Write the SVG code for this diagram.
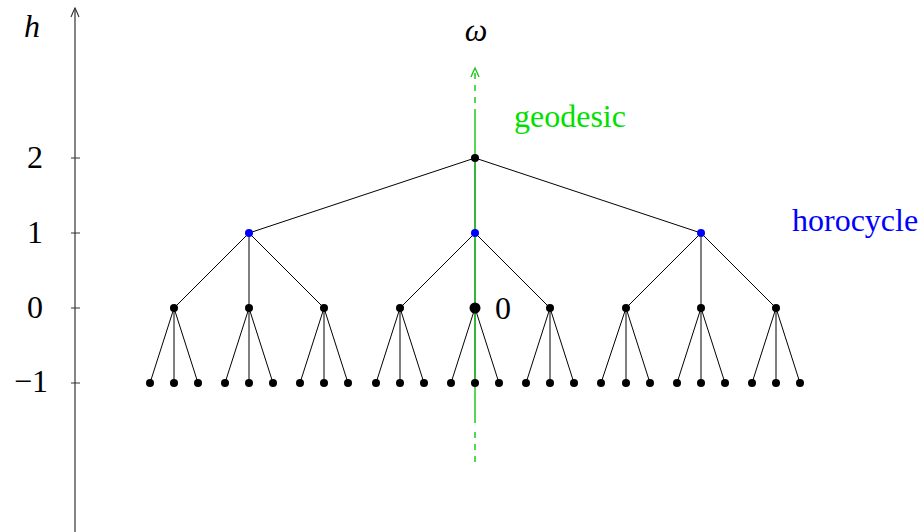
<svg xmlns="http://www.w3.org/2000/svg" width="923" height="532" viewBox="0 0 923 532">
<style>
.t{font-family:"Liberation Serif","DejaVu Serif",serif;font-size:32px;fill:#000}
.i{font-style:italic}
.e{stroke:#000;stroke-width:1;fill:none}
.n{fill:#000}
.b{fill:#0000ff}
.ax{stroke:#333;stroke-width:1.2;fill:none}
.g{stroke:#1ec81e;stroke-width:1.5;fill:none}
</style>
<defs>
<marker id="ah" markerWidth="12" markerHeight="18" refX="6" refY="1" orient="0" markerUnits="userSpaceOnUse" overflow="visible">
<path d="M2,10 Q4.5,4 6,1 Q7.5,4 10,10" fill="none" stroke="#333" stroke-width="1.1"/>
</marker>
<marker id="ahg" markerWidth="12" markerHeight="18" refX="6" refY="1" orient="0" markerUnits="userSpaceOnUse" overflow="visible">
<path d="M2,10 Q4.5,4 6,1 Q7.5,4 10,10" fill="none" stroke="#1ec81e" stroke-width="1.4"/>
</marker>
</defs>
<g id="axis">
<line class="ax" x1="75" y1="532" x2="75" y2="8" marker-end="url(#ah)"/>
<path class="ax" d="M71,158H80M71,233H80M71,308H80M71,383H80"/>
<text class="t i" x="24" y="37">h</text>
<text class="t" x="43" y="168" text-anchor="end">2</text>
<text class="t" x="43" y="243" text-anchor="end">1</text>
<text class="t" x="43" y="318" text-anchor="end">0</text>
<text class="t" x="48" y="392" text-anchor="end">−1</text>
</g>
<g id="connectors">
<path class="e" d="M475,158L249,233M475,158L475,233M475,158L701,233"/>
<path class="e" d="M249,233L174,308M249,233L249,308M249,233L324,308M475,233L400,308M475,233L475,308M475,233L550,308M701,233L626,308M701,233L701,308M701,233L776,308"/>
<path class="e" d="M174,308L150,383M174,308L174,383M174,308L198,383M249,308L225,383M249,308L249,383M249,308L273,383M324,308L300,383M324,308L324,383M324,308L348,383M400,308L376,383M400,308L400,383M400,308L424,383M475,308L451,383M475,308L475,383M475,308L499,383M550,308L526,383M550,308L550,383M550,308L574,383M626,308L601,383M626,308L626,383M626,308L650,383M701,308L677,383M701,308L701,383M701,308L725,383M776,308L752,383M776,308L776,383M776,308L800,383"/>
</g>
<g id="geodesic">
<line class="g" x1="475" y1="423" x2="475" y2="115"/>
<line class="g" x1="475" y1="115" x2="475" y2="68" stroke-dasharray="6,6" marker-end="url(#ahg)"/>
<line class="g" x1="475" y1="423" x2="475" y2="470" stroke-dasharray="0,9,6,6,6,6,6,6"/>
<text class="t" x="514" y="127" style="fill:#00e000">geodesic</text>
<text class="t i" x="476" y="41" text-anchor="middle">ω</text>
</g>
<g id="n-top"><circle class="n" cx="475" cy="158" r="4"/></g>
<g id="n-l1"><circle class="b" cx="249" cy="233" r="4"/><circle class="b" cx="475" cy="233" r="4"/><circle class="b" cx="701" cy="233" r="4"/></g>
<g id="n-l0"><circle class="n" cx="174" cy="308" r="4"/><circle class="n" cx="249" cy="308" r="4"/><circle class="n" cx="324" cy="308" r="4"/><circle class="n" cx="400" cy="308" r="4"/><circle class="n" cx="550" cy="308" r="4"/><circle class="n" cx="626" cy="308" r="4"/><circle class="n" cx="701" cy="308" r="4"/><circle class="n" cx="776" cy="308" r="4"/></g>
<g id="n-origin"><circle class="n" cx="475" cy="308" r="5.5"/><text class="t" x="495" y="319">0</text></g>
<g id="n-leaves">
<circle class="n" cx="150" cy="383" r="4"/><circle class="n" cx="174" cy="383" r="4"/><circle class="n" cx="198" cy="383" r="4"/>
<circle class="n" cx="225" cy="383" r="4"/><circle class="n" cx="249" cy="383" r="4"/><circle class="n" cx="273" cy="383" r="4"/>
<circle class="n" cx="300" cy="383" r="4"/><circle class="n" cx="324" cy="383" r="4"/><circle class="n" cx="348" cy="383" r="4"/>
<circle class="n" cx="376" cy="383" r="4"/><circle class="n" cx="400" cy="383" r="4"/><circle class="n" cx="424" cy="383" r="4"/>
<circle class="n" cx="451" cy="383" r="4"/><circle class="n" cx="475" cy="383" r="4"/><circle class="n" cx="499" cy="383" r="4"/>
<circle class="n" cx="526" cy="383" r="4"/><circle class="n" cx="550" cy="383" r="4"/><circle class="n" cx="574" cy="383" r="4"/>
<circle class="n" cx="601" cy="383" r="4"/><circle class="n" cx="626" cy="383" r="4"/><circle class="n" cx="650" cy="383" r="4"/>
<circle class="n" cx="677" cy="383" r="4"/><circle class="n" cx="701" cy="383" r="4"/><circle class="n" cx="725" cy="383" r="4"/>
<circle class="n" cx="752" cy="383" r="4"/><circle class="n" cx="776" cy="383" r="4"/><circle class="n" cx="800" cy="383" r="4"/>
</g>
<g id="horocycle"><text class="t" x="792" y="231" style="fill:#0000ff">horocycle</text></g>
</svg>
